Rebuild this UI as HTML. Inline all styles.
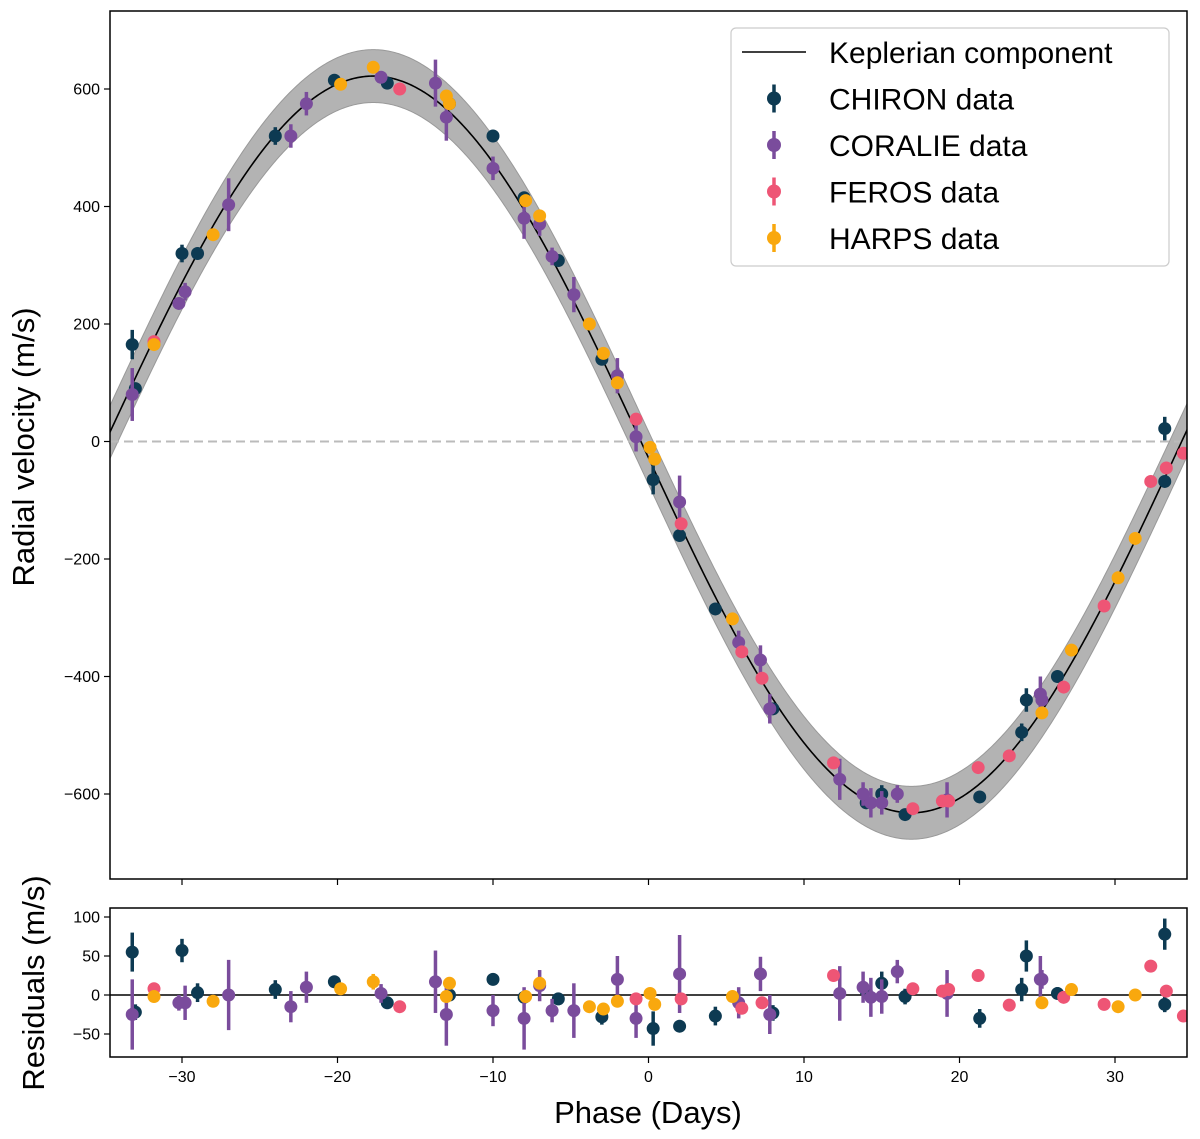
<!DOCTYPE html>
<html><head><meta charset="utf-8"><style>
body{margin:0;background:#fff;}
svg{display:block;font-family:"Liberation Sans","DejaVu Sans",sans-serif;}
</style></head><body>
<svg id="chart" width="1200" height="1139" viewBox="0 0 1200 1139" xmlns="http://www.w3.org/2000/svg"></svg>
<script>
// ---- data ----
const chironPhase=[-33.2,-33,-30,-29,-24,-20.2,-16.8,-12.8,-10,-8,-5.8,-3,0.3,2,4.3,8,14,15,16.5,21.3,24,24.3,26.3,33.2,33.2];
const chironRV=[165,90,320,320,520,615,610,575,520,415,308,140,-65,-160,-285,-455,-615,-600,-635,-605,-495,-440,-400,22,-68];
const chironErr=[25,10,15,10,15,5,5,10,8,10,10,10,25,10,10,10,10,15,10,10,15,20,10,20,10];
const chironRes=[55,-22,57,3,7,17,-10,0,20,-3,-5,-28,-43,-40,-27,-23,5,15,-2,-30,7,50,2,78,-12];
const chironResErr=[25,10,15,12,12,8,8,8,6,8,8,10,22,8,12,10,8,15,10,12,15,20,8,20,10];

const coraliePhase=[-33.2,-30.2,-29.8,-27,-23,-22,-17.2,-13.7,-13,-10,-8,-7,-6.2,-4.8,-2,-0.8,2,5.8,7.2,7.8,12.3,13.8,14.3,15,16,19.2,25.2,25.3];
const coralieRV=[80,235,255,403,520,575,620,610,552,465,380,370,315,250,112,8,-103,-342,-372,-455,-575,-600,-615,-615,-600,-610,-430,-440];
const coralieErr=[45,10,15,45,20,20,10,40,40,20,35,20,15,30,30,25,45,20,25,25,35,20,25,20,15,30,30,10];
const coralieRes=[-25,-10,-10,0,-15,10,2,17,-25,-20,-30,12,-20,-20,20,-30,27,-10,27,-25,2,10,-3,-2,30,2,20,20];
const coralieResErr=[45,10,22,45,20,20,12,40,40,20,40,20,15,35,30,25,50,20,22,25,35,20,25,22,15,30,30,12];

const ferosPhase=[-31.8,-16,-0.8,2.1,6,7.3,11.9,17,18.9,19.3,21.2,23.2,26.7,29.3,32.3,33.3,34.4];
const ferosRV=[170,600,38,-140,-358,-403,-547,-625,-612,-612,-555,-535,-418,-280,-68,-45,-20];
const ferosRes=[8,-15,-5,-5,-17,-10,25,8,5,7,25,-13,-3,-12,37,5,-27];

const harpsPhase=[-31.8,-28,-19.8,-17.7,-13,-12.8,-7.9,-7,-3.8,-2.9,-2,0.1,0.4,5.4,25.3,27.2,30.2,31.3];
const harpsRV=[165,352,608,637,588,575,410,384,200,150,100,-10,-30,-302,-462,-355,-232,-165];
const harpsRes=[-2,-8,8,17,-2,15,-2,15,-15,-18,-8,2,-12,-2,-10,7,-15,0];
const harpsResErr=[0,0,0,10,0,0,0,0,0,0,0,0,0,0,0,0,0,0];

const xTicks=[-30,-20,-10,0,10,20,30];
const yTicks=[-600,-400,-200,0,200,400,600];
const rTicks=[-50,0,50,100];

// ---- axes ----
const L=110,R=1187,T=11,B=879,RT=908,RB=1057;
const xS=p=>648.5+p*15.55;
const yS=v=>441.5-v*0.5875;
const rS=v=>995-v*0.78;
const model=t=>627*Math.cos(2*Math.PI*(t+17.7)/69.2)-5;

const svg=document.getElementById('chart');
const NS='http://www.w3.org/2000/svg';
function mk(tag,attrs,parent){const e=document.createElementNS(NS,tag);for(const k in attrs)e.setAttribute(k,attrs[k]);(parent||svg).appendChild(e);return e;}

const defs=mk('defs',{});
const c1=mk('clipPath',{id:'c1'},defs);mk('rect',{x:L,y:T,width:R-L,height:B-T},c1);
const c2=mk('clipPath',{id:'c2'},defs);mk('rect',{x:L,y:RT,width:R-L,height:RB-RT},c2);

const main=mk('g',{'clip-path':'url(#c1)'});



let up=[],dn=[],cv=[];
for(let t=-35;t<=35.01;t+=0.1){up.push(xS(t)+','+yS(model(t)+45));dn.unshift(xS(t)+','+yS(model(t)-45));cv.push(xS(t)+','+yS(model(t)));}
const band=mk('polygon',{points:up.concat(dn).join(' '),fill:'#b3b3b3',stroke:'#999','stroke-width':1},main);


const zl=mk('line',{x1:L,x2:R,y1:yS(0),y2:yS(0),stroke:'#bbb','stroke-width':2,'stroke-dasharray':'9,5'},main);


const curve=mk('polyline',{points:cv.join(' '),fill:'none',stroke:'#000','stroke-width':1.6},main);



const resG=mk('g',{'clip-path':'url(#c2)'});


const rl=mk('line',{x1:L,x2:R,y1:rS(0),y2:rS(0),stroke:'#000','stroke-width':1.5},resG);



function series(g,name,color,ph,vals,errs,ys){
  for(let i=0;i<ph.length;i++){
    const x=xS(ph[i]),y=ys(vals[i]);
    const e=errs?errs[i]:0;
    if(e>0){const l=mk('line',{x1:x,x2:x,y1:ys(vals[i]+e),y2:ys(vals[i]-e),stroke:color,'stroke-width':3.5},g);
      
      }
    const c=mk('circle',{cx:x,cy:y,r:6.5,fill:color},g);
    
    
  }
}
const CH='#0d3a52',CO='#7a4c9c',FE='#ee5575',HA='#f9a80e';
series(main,'chiron',CH,chironPhase,chironRV,chironErr,yS);
series(main,'coralie',CO,coraliePhase,coralieRV,coralieErr,yS);
series(main,'feros',FE,ferosPhase,ferosRV,null,yS);
series(main,'harps',HA,harpsPhase,harpsRV,null,yS);
series(resG,'chiron-residual',CH,chironPhase,chironRes,chironResErr,rS);
series(resG,'coralie-residual',CO,coraliePhase,coralieRes,coralieResErr,rS);
series(resG,'feros-residual',FE,ferosPhase,ferosRes,null,rS);
series(resG,'harps-residual',HA,harpsPhase,harpsRes,harpsResErr,rS);

const f1=mk('rect',{x:L,y:T,width:R-L,height:B-T,fill:'none',stroke:'#000','stroke-width':1.5});


const f2=mk('rect',{x:L,y:RT,width:R-L,height:RB-RT,fill:'none',stroke:'#000','stroke-width':1.5});



xTicks.forEach(v=>{
  const x=xS(v);
  mk('line',{x1:x,x2:x,y1:B,y2:B+6,stroke:'#000','stroke-width':1.2});
  mk('line',{x1:x,x2:x,y1:RB,y2:RB+6,stroke:'#000','stroke-width':1.2});
  const t=mk('text',{x:x,y:RB+25,'font-size':16,'text-anchor':'middle'});t.textContent=(v<0?'\u2212'+(-v):v);
  
  
});
yTicks.forEach(v=>{
  const y=yS(v);
  mk('line',{x1:L-6,x2:L,y1:y,y2:y,stroke:'#000','stroke-width':1.2});
  const t=mk('text',{x:L-10,y:y+5.5,'font-size':16,'text-anchor':'end'});t.textContent=(v<0?'\u2212'+(-v):v);
  
  
});
rTicks.forEach(v=>{
  const y=rS(v);
  mk('line',{x1:L-6,x2:L,y1:y,y2:y,stroke:'#000','stroke-width':1.2});
  const t=mk('text',{x:L-10,y:y+5.5,'font-size':16,'text-anchor':'end'});t.textContent=(v<0?'\u2212'+(-v):v);
  
  
});

let t=mk('text',{x:0,y:0,'font-size':31,'text-anchor':'middle',transform:'translate(34,447) rotate(-90)'});t.textContent='Radial velocity (m/s)';

t=mk('text',{x:0,y:0,'font-size':31,'text-anchor':'middle',transform:'translate(44,983) rotate(-90)'});t.textContent='Residuals (m/s)';

t=mk('text',{x:648,y:1123,'font-size':31,'text-anchor':'middle'});t.textContent='Phase (Days)';


const lg=mk('g',{});


mk('rect',{x:731,y:28,width:438,height:238,rx:5,fill:'#fff','fill-opacity':0.85,stroke:'#ccc','stroke-width':1.2},lg);
const entries=[['Keplerian component',null],['CHIRON data',CH],['CORALIE data',CO],['FEROS data',FE],['HARPS data',HA]];
entries.forEach((en,i)=>{
  const y=52+i*46.5;
  const g=mk('g',{},lg);
  
  
  if(!en[1]) mk('line',{x1:742,x2:806,y1:y,y2:y,stroke:'#000','stroke-width':1.6},g);
  else{mk('line',{x1:774,x2:774,y1:y-14,y2:y+14,stroke:en[1],'stroke-width':3.5},g);mk('circle',{cx:774,cy:y,r:7,fill:en[1]},g);}
  const tx=mk('text',{x:829,y:y+11,'font-size':30},g);tx.textContent=en[0];
});
</script>
</body></html>
